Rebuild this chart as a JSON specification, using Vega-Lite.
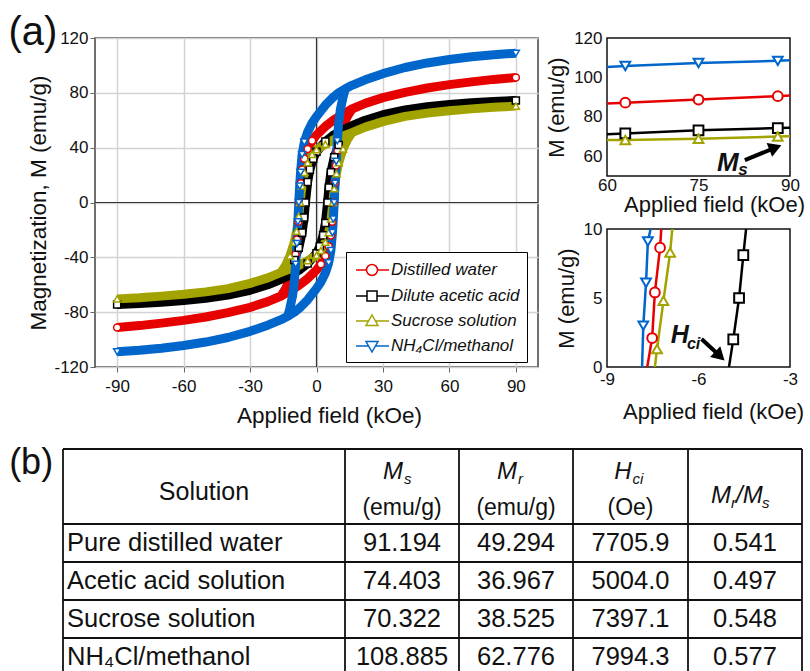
{
  "$schema": "https://vega.github.io/schema/vega-lite/v6.json",
  "padding": {"left": 7, "top": 12, "right": 0, "bottom": 0},
  "config": {
    "font": "Liberation Sans",
    "view": {"stroke": "#404040", "strokeWidth": 1.5},
    "axis": {"labelFontSize": 17, "titleFontSize": 22, "labelColor": "#111", "titleColor": "#111", "titleFontWeight": "normal", "domain": false, "tickColor": "#666", "labelFlush": false, "labelOverlap": false, "labelExpr": "replace(datum.label, '−', '-')"},
    "text": {"color": "#111"}
  },
  "datasets": {
    "loop": [
      {"s":"w","b":"d","H":90,"M":91.2},{"s":"w","b":"d","H":80,"M":89.8},{"s":"w","b":"d","H":70,"M":88},{"s":"w","b":"d","H":60,"M":86},{"s":"w","b":"d","H":50,"M":83.5},{"s":"w","b":"d","H":40,"M":80.3},{"s":"w","b":"d","H":30,"M":76.5},{"s":"w","b":"d","H":22,"M":72.3},{"s":"w","b":"d","H":16,"M":68.2},{"s":"w","b":"d","H":12,"M":64.5},{"s":"w","b":"d","H":8,"M":60.5},{"s":"w","b":"d","H":4,"M":55.5},{"s":"w","b":"d","H":0,"M":49.3},{"s":"w","b":"d","H":-2,"M":45},{"s":"w","b":"d","H":-4,"M":39},{"s":"w","b":"d","H":-5.5,"M":32},{"s":"w","b":"d","H":-6.5,"M":24},{"s":"w","b":"d","H":-7.1,"M":14},{"s":"w","b":"d","H":-7.7,"M":0},{"s":"w","b":"d","H":-8.2,"M":-14},{"s":"w","b":"d","H":-8.8,"M":-27},{"s":"w","b":"d","H":-9.5,"M":-38},{"s":"w","b":"d","H":-10.5,"M":-48},{"s":"w","b":"d","H":-12,"M":-56},{"s":"w","b":"d","H":-14,"M":-63},{"s":"w","b":"d","H":-16,"M":-68.2},{"s":"w","b":"d","H":-22,"M":-72.3},{"s":"w","b":"d","H":-30,"M":-76.5},{"s":"w","b":"d","H":-40,"M":-80.3},{"s":"w","b":"d","H":-50,"M":-83.5},{"s":"w","b":"d","H":-60,"M":-86},{"s":"w","b":"d","H":-70,"M":-88},{"s":"w","b":"d","H":-80,"M":-89.8},{"s":"w","b":"d","H":-90,"M":-91.2},
      {"s":"w","b":"a","H":-16,"M":-68.2},{"s":"w","b":"a","H":-12,"M":-64.5},{"s":"w","b":"a","H":-8,"M":-60.5},{"s":"w","b":"a","H":-4,"M":-55.5},{"s":"w","b":"a","H":0,"M":-49.3},{"s":"w","b":"a","H":2,"M":-45},{"s":"w","b":"a","H":4,"M":-39},{"s":"w","b":"a","H":5.5,"M":-32},{"s":"w","b":"a","H":6.5,"M":-24},{"s":"w","b":"a","H":7.1,"M":-14},{"s":"w","b":"a","H":7.7,"M":0},{"s":"w","b":"a","H":8.2,"M":14},{"s":"w","b":"a","H":8.8,"M":27},{"s":"w","b":"a","H":9.5,"M":38},{"s":"w","b":"a","H":10.5,"M":48},{"s":"w","b":"a","H":12,"M":56},{"s":"w","b":"a","H":14,"M":63},{"s":"w","b":"a","H":16,"M":68.2},
      {"s":"a","b":"d","H":90,"M":74.4},{"s":"a","b":"d","H":80,"M":73.7},{"s":"a","b":"d","H":70,"M":72.7},{"s":"a","b":"d","H":60,"M":71.5},{"s":"a","b":"d","H":50,"M":69.8},{"s":"a","b":"d","H":40,"M":67.5},{"s":"a","b":"d","H":30,"M":64},{"s":"a","b":"d","H":22,"M":60},{"s":"a","b":"d","H":16,"M":56},{"s":"a","b":"d","H":12,"M":53},{"s":"a","b":"d","H":8,"M":49.5},{"s":"a","b":"d","H":4,"M":44.5},{"s":"a","b":"d","H":0,"M":37},{"s":"a","b":"d","H":-1.5,"M":32},{"s":"a","b":"d","H":-3,"M":24},{"s":"a","b":"d","H":-4,"M":15},{"s":"a","b":"d","H":-5,"M":0},{"s":"a","b":"d","H":-5.6,"M":-11},{"s":"a","b":"d","H":-6.5,"M":-22},{"s":"a","b":"d","H":-8,"M":-33},{"s":"a","b":"d","H":-10,"M":-42},{"s":"a","b":"d","H":-12,"M":-48},{"s":"a","b":"d","H":-14,"M":-52.5},{"s":"a","b":"d","H":-16,"M":-56},{"s":"a","b":"d","H":-22,"M":-60},{"s":"a","b":"d","H":-30,"M":-64},{"s":"a","b":"d","H":-40,"M":-67.5},{"s":"a","b":"d","H":-50,"M":-69.8},{"s":"a","b":"d","H":-60,"M":-71.5},{"s":"a","b":"d","H":-70,"M":-72.7},{"s":"a","b":"d","H":-80,"M":-73.7},{"s":"a","b":"d","H":-90,"M":-74.4},
      {"s":"a","b":"a","H":-16,"M":-56},{"s":"a","b":"a","H":-12,"M":-53},{"s":"a","b":"a","H":-8,"M":-49.5},{"s":"a","b":"a","H":-4,"M":-44.5},{"s":"a","b":"a","H":0,"M":-37},{"s":"a","b":"a","H":1.5,"M":-32},{"s":"a","b":"a","H":3,"M":-24},{"s":"a","b":"a","H":4,"M":-15},{"s":"a","b":"a","H":5,"M":0},{"s":"a","b":"a","H":5.6,"M":11},{"s":"a","b":"a","H":6.5,"M":22},{"s":"a","b":"a","H":8,"M":33},{"s":"a","b":"a","H":10,"M":42},{"s":"a","b":"a","H":12,"M":48},{"s":"a","b":"a","H":14,"M":52.5},{"s":"a","b":"a","H":16,"M":56},
      {"s":"u","b":"d","H":90,"M":70.3},{"s":"u","b":"d","H":80,"M":69.5},{"s":"u","b":"d","H":70,"M":68.3},{"s":"u","b":"d","H":60,"M":67},{"s":"u","b":"d","H":50,"M":65.2},{"s":"u","b":"d","H":40,"M":62.8},{"s":"u","b":"d","H":30,"M":59},{"s":"u","b":"d","H":22,"M":55},{"s":"u","b":"d","H":16,"M":51},{"s":"u","b":"d","H":12,"M":48.5},{"s":"u","b":"d","H":8,"M":46},{"s":"u","b":"d","H":4,"M":42.5},{"s":"u","b":"d","H":0,"M":38.5},{"s":"u","b":"d","H":-2,"M":35},{"s":"u","b":"d","H":-4,"M":29},{"s":"u","b":"d","H":-5.5,"M":22},{"s":"u","b":"d","H":-6.6,"M":12},{"s":"u","b":"d","H":-7.4,"M":0},{"s":"u","b":"d","H":-8,"M":-10},{"s":"u","b":"d","H":-9,"M":-21},{"s":"u","b":"d","H":-10,"M":-29},{"s":"u","b":"d","H":-12,"M":-39},{"s":"u","b":"d","H":-14,"M":-46},{"s":"u","b":"d","H":-16,"M":-51},{"s":"u","b":"d","H":-22,"M":-55},{"s":"u","b":"d","H":-30,"M":-59},{"s":"u","b":"d","H":-40,"M":-62.8},{"s":"u","b":"d","H":-50,"M":-65.2},{"s":"u","b":"d","H":-60,"M":-67},{"s":"u","b":"d","H":-70,"M":-68.3},{"s":"u","b":"d","H":-80,"M":-69.5},{"s":"u","b":"d","H":-90,"M":-70.3},
      {"s":"u","b":"a","H":-16,"M":-51},{"s":"u","b":"a","H":-12,"M":-48.5},{"s":"u","b":"a","H":-8,"M":-46},{"s":"u","b":"a","H":-4,"M":-42.5},{"s":"u","b":"a","H":0,"M":-38.5},{"s":"u","b":"a","H":2,"M":-35},{"s":"u","b":"a","H":4,"M":-29},{"s":"u","b":"a","H":5.5,"M":-22},{"s":"u","b":"a","H":6.6,"M":-12},{"s":"u","b":"a","H":7.4,"M":0},{"s":"u","b":"a","H":8,"M":10},{"s":"u","b":"a","H":9,"M":21},{"s":"u","b":"a","H":10,"M":29},{"s":"u","b":"a","H":12,"M":39},{"s":"u","b":"a","H":14,"M":46},{"s":"u","b":"a","H":16,"M":51},
      {"s":"n","b":"d","H":90,"M":108.9},{"s":"n","b":"d","H":80,"M":107.8},{"s":"n","b":"d","H":70,"M":106.3},{"s":"n","b":"d","H":60,"M":104.3},{"s":"n","b":"d","H":50,"M":101.8},{"s":"n","b":"d","H":40,"M":98.5},{"s":"n","b":"d","H":30,"M":94},{"s":"n","b":"d","H":22,"M":89.5},{"s":"n","b":"d","H":16,"M":85.5},{"s":"n","b":"d","H":13,"M":83},{"s":"n","b":"d","H":10,"M":80},{"s":"n","b":"d","H":7,"M":76},{"s":"n","b":"d","H":4,"M":71},{"s":"n","b":"d","H":0,"M":62.8},{"s":"n","b":"d","H":-2,"M":58},{"s":"n","b":"d","H":-4,"M":51.5},{"s":"n","b":"d","H":-5.5,"M":44},{"s":"n","b":"d","H":-6.5,"M":35},{"s":"n","b":"d","H":-7.2,"M":22},{"s":"n","b":"d","H":-7.6,"M":12},{"s":"n","b":"d","H":-8,"M":0},{"s":"n","b":"d","H":-8.4,"M":-14},{"s":"n","b":"d","H":-8.9,"M":-30},{"s":"n","b":"d","H":-9.4,"M":-45},{"s":"n","b":"d","H":-10,"M":-58},{"s":"n","b":"d","H":-10.8,"M":-68},{"s":"n","b":"d","H":-12,"M":-77},{"s":"n","b":"d","H":-13,"M":-83},{"s":"n","b":"d","H":-16,"M":-85.5},{"s":"n","b":"d","H":-22,"M":-89.5},{"s":"n","b":"d","H":-30,"M":-94},{"s":"n","b":"d","H":-40,"M":-98.5},{"s":"n","b":"d","H":-50,"M":-101.8},{"s":"n","b":"d","H":-60,"M":-104.3},{"s":"n","b":"d","H":-70,"M":-106.3},{"s":"n","b":"d","H":-80,"M":-107.8},{"s":"n","b":"d","H":-90,"M":-108.9},
      {"s":"n","b":"a","H":-13,"M":-83},{"s":"n","b":"a","H":-10,"M":-80},{"s":"n","b":"a","H":-7,"M":-76},{"s":"n","b":"a","H":-4,"M":-71},{"s":"n","b":"a","H":0,"M":-62.8},{"s":"n","b":"a","H":2,"M":-58},{"s":"n","b":"a","H":4,"M":-51.5},{"s":"n","b":"a","H":5.5,"M":-44},{"s":"n","b":"a","H":6.5,"M":-35},{"s":"n","b":"a","H":7.2,"M":-22},{"s":"n","b":"a","H":7.6,"M":-12},{"s":"n","b":"a","H":8,"M":0},{"s":"n","b":"a","H":8.4,"M":14},{"s":"n","b":"a","H":8.9,"M":30},{"s":"n","b":"a","H":9.4,"M":45},{"s":"n","b":"a","H":10,"M":58},{"s":"n","b":"a","H":10.8,"M":68},{"s":"n","b":"a","H":12,"M":77},{"s":"n","b":"a","H":13,"M":83}
    ],
    "top": [
      {"s":"w","H":60,"M":86.8},{"s":"w","H":63,"M":87.2},{"s":"w","H":75,"M":88.8},{"s":"w","H":88,"M":90.5},{"s":"w","H":90,"M":90.8},
      {"s":"a","H":60,"M":71.2},{"s":"a","H":63,"M":71.6},{"s":"a","H":75,"M":73.2},{"s":"a","H":88,"M":74.3},{"s":"a","H":90,"M":74.5},
      {"s":"u","H":60,"M":68.2},{"s":"u","H":63,"M":68.3},{"s":"u","H":75,"M":68.9},{"s":"u","H":88,"M":70.0},{"s":"u","H":90,"M":70.2},
      {"s":"n","H":60,"M":105.3},{"s":"n","H":63,"M":105.8},{"s":"n","H":75,"M":107.3},{"s":"n","H":88,"M":108.4},{"s":"n","H":90,"M":108.7}
    ],
    "coer": [
      {"s":"w","H":-7.68,"M":0},{"s":"w","H":-7.52,"M":2.1},{"s":"w","H":-7.43,"M":5.4},{"s":"w","H":-7.26,"M":8.65},{"s":"w","H":-7.22,"M":10},
      {"s":"a","H":-5.0,"M":0},{"s":"a","H":-4.86,"M":2.0},{"s":"a","H":-4.67,"M":5.0},{"s":"a","H":-4.53,"M":8.1},{"s":"a","H":-4.44,"M":10},
      {"s":"u","H":-7.43,"M":0},{"s":"u","H":-7.36,"M":1.3},{"s":"u","H":-7.15,"M":4.8},{"s":"u","H":-6.93,"M":8.3},{"s":"u","H":-6.86,"M":10},
      {"s":"n","H":-7.85,"M":0},{"s":"n","H":-7.81,"M":3.0},{"s":"n","H":-7.72,"M":6.1},{"s":"n","H":-7.66,"M":9.1},{"s":"n","H":-7.57,"M":10}
    ]
  },
  "bounds": "full",
  "spacing": 16,
  "vconcat": [
    {
      "bounds": "flush",
      "spacing": 69,
      "hconcat": [
        {
          "width": 443,
          "height": 329,
          "resolve": {"scale": {"shape": "independent", "stroke": "independent"}},
          "layer": [
            {
              "data": {"values": [{}]},
              "mark": {"type": "rule", "color": "#333", "strokeWidth": 1.2},
              "encoding": {"x": {"datum": 0, "type": "quantitative", "scale": {"domain": [-100, 100], "nice": false, "zero": false}}}
            },
            {
              "data": {"values": [{}]},
              "mark": {"type": "rule", "color": "#333", "strokeWidth": 1.2},
              "encoding": {"y": {"datum": 0, "type": "quantitative", "scale": {"domain": [-120, 120], "nice": false, "zero": false}}}
            },
            {
              "data": {"name": "loop"},
              "mark": {"type": "line", "strokeWidth": 9, "strokeJoin": "round"},
              "encoding": {
                "x": {"field": "H", "type": "quantitative", "scale": {"domain": [-100, 100], "nice": false, "zero": false},
                  "axis": {"values": [-90, -60, -30, 0, 30, 60, 90], "title": "Applied field (kOe)", "grid": true, "gridColor": "#d3d3d3", "gridWidth": 1.5, "tickSize": 5, "labelPadding": 6, "titlePadding": 10, "labelFontSize": 17, "titleFontSize": 22.5, "titleX": 234}},
                "y": {"field": "M", "type": "quantitative", "scale": {"domain": [-120, 120], "nice": false, "zero": false},
                  "axis": {"values": [-120, -80, -40, 0, 40, 80, 120], "title": "Magnetization, M (emu/g)", "grid": true, "gridColor": "#d3d3d3", "gridWidth": 1.5, "tickSize": 5, "labelPadding": 2, "titlePadding": 3, "labelFontSize": 17, "titleFontSize": 22.5}},
                "color": {"field": "s", "type": "nominal", "scale": {"domain": ["w", "a", "u", "n"], "range": ["#e60000", "#000000", "#a3a300", "#0066cc"]}, "legend": null},
                "detail": {"field": "b"}
              }
            },
            {
              "data": {"name": "loop"},
              "transform": [{"filter": "abs(datum.M) <= 45 || abs(datum.H) == 90"}],
              "mark": {"type": "point", "fill": "white", "strokeWidth": 1.5, "size": 50, "opacity": 1},
              "encoding": {
                "x": {"field": "H", "type": "quantitative", "scale": {"domain": [-100, 100], "nice": false, "zero": false}},
                "y": {"field": "M", "type": "quantitative", "scale": {"domain": [-120, 120], "nice": false, "zero": false}},
                "stroke": {"field": "s", "type": "nominal", "scale": {"domain": ["w", "a", "u", "n"], "range": ["#e60000", "#000000", "#a3a300", "#0066cc"]}, "legend": null},
                "shape": {"field": "s", "type": "nominal", "scale": {"domain": ["w", "a", "u", "n"], "range": ["circle", "square", "triangle-up", "triangle-down"]}, "legend": null}
              }
            },
            {
              "data": {"name": "loop"},
              "transform": [{"filter": "false"}],
              "mark": {"type": "point", "fill": "white", "strokeWidth": 1.5, "size": 400, "opacity": 1},
              "encoding": {
                "x": {"field": "H", "type": "quantitative", "scale": {"domain": [-100, 100], "nice": false, "zero": false}},
                "y": {"field": "M", "type": "quantitative", "scale": {"domain": [-120, 120], "nice": false, "zero": false}},
                "stroke": {"field": "s", "type": "nominal", "scale": {"domain": ["w", "a", "u", "n"], "range": ["#e60000", "#000000", "#a3a300", "#0066cc"]},
                  "legend": {"orient": "none", "legendX": 251, "legendY": 214, "title": null, "padding": 7, "strokeColor": "#000", "fillColor": "#fff", "labelFontStyle": "italic", "labelFontSize": 17, "labelColor": "#111", "symbolSize": 400, "symbolStrokeWidth": 1.5, "symbolFillColor": "#fff", "rowPadding": 6, "labelOffset": 16,
                    "labelExpr": "{'w':'Distilled water','a':'Dilute acetic acid','u':'Sucrose solution','n':'NH₄Cl/methanol'}[datum.label]"}},
                "shape": {"field": "s", "type": "nominal", "scale": {"domain": ["w", "a", "u", "n"], "range": [
                    "M-0.8,0H0.25M1.35,0H2.5M1.35,0A0.55,0.55 0 1,1 0.25,0A0.55,0.55 0 1,1 1.35,0Z",
                    "M-0.8,0H0.3M1.3,0H2.5M0.3,-0.5H1.3V0.5H0.3Z",
                    "M-0.8,0H0.457M1.143,0H2.5M0.8,-0.6L1.4,0.45H0.2Z",
                    "M-0.8,0H0.457M1.143,0H2.5M0.8,0.6L1.4,-0.45H0.2Z"]},
                  "legend": {"orient": "none", "legendX": 251, "legendY": 214, "title": null, "padding": 7, "strokeColor": "#000", "fillColor": "#fff", "labelFontStyle": "italic", "labelFontSize": 17, "labelColor": "#111", "symbolSize": 400, "symbolStrokeWidth": 1.5, "symbolFillColor": "#fff", "rowPadding": 6, "labelOffset": 16,
                    "labelExpr": "{'w':'Distilled water','a':'Dilute acetic acid','u':'Sucrose solution','n':'NH₄Cl/methanol'}[datum.label]"}}
              }
            },
            {
              "data": {"values": [{}]},
              "mark": {"type": "text", "fontSize": 40, "align": "center", "baseline": "alphabetic"},
              "encoding": {
                "x": {"datum": -128, "type": "quantitative", "scale": {"domain": [-100, 100], "nice": false, "zero": false}},
                "y": {"datum": 114.9, "type": "quantitative", "scale": {"domain": [-120, 120], "nice": false, "zero": false}},
                "text": {"value": "(a)"}
              }
            }
          ]
        },
        {
          "bounds": "flush",
          "spacing": 53,
          "vconcat": [
            {
              "width": 183,
              "height": 138,
              "view": {"stroke": "#111", "strokeWidth": 1.5},
              "layer": [
                {
                  "data": {"name": "top"},
                  "mark": {"type": "line", "strokeWidth": 2.5, "clip": true},
                  "encoding": {
                    "x": {"field": "H", "type": "quantitative", "scale": {"domain": [60, 90], "nice": false, "zero": false},
                      "axis": {"values": [60, 75, 90], "title": "Applied field (kOe)", "grid": false, "ticks": false, "labelPadding": 1, "titlePadding": 1, "labelFontSize": 17, "titleFontSize": 22, "titleX": 107}},
                    "y": {"field": "M", "type": "quantitative", "scale": {"domain": [50, 120], "nice": false, "zero": false},
                      "axis": {"values": [60, 80, 100, 120], "title": "M (emu/g)", "grid": false, "ticks": false, "labelPadding": 5, "titlePadding": 5, "labelFontSize": 17, "titleFontSize": 22}},
                    "color": {"field": "s", "type": "nominal", "scale": {"domain": ["w", "a", "u", "n"], "range": ["#e60000", "#000000", "#a3a300", "#0066cc"]}, "legend": null}
                  }
                },
                {
                  "data": {"name": "top"},
                  "transform": [{"filter": "datum.H != 60 && datum.H != 90"}],
                  "mark": {"type": "point", "fill": "white", "strokeWidth": 2, "size": 95, "opacity": 1},
                  "encoding": {
                    "x": {"field": "H", "type": "quantitative", "scale": {"domain": [60, 90], "nice": false, "zero": false}},
                    "y": {"field": "M", "type": "quantitative", "scale": {"domain": [50, 120], "nice": false, "zero": false}},
                    "stroke": {"field": "s", "type": "nominal", "scale": {"domain": ["w", "a", "u", "n"], "range": ["#e60000", "#000000", "#a3a300", "#0066cc"]}, "legend": null},
                    "shape": {"field": "s", "type": "nominal", "scale": {"domain": ["w", "a", "u", "n"], "range": ["circle", "square", "triangle-up", "triangle-down"]}, "legend": null}
                  }
                },
                {
                  "data": {"values": [{}]},
                  "mark": {"type": "rule", "color": "#000", "strokeWidth": 4},
                  "encoding": {
                    "x": {"datum": 82.6, "type": "quantitative", "scale": {"domain": [60, 90], "nice": false, "zero": false}},
                    "y": {"datum": 58.1, "type": "quantitative", "scale": {"domain": [50, 120], "nice": false, "zero": false}},
                    "x2": {"datum": 87.3},
                    "y2": {"datum": 64.0}
                  }
                },
                {
                  "data": {"values": [{}]},
                  "mark": {"type": "point", "shape": "triangle-up", "filled": true, "color": "#000", "size": 220, "angle": 68.5, "opacity": 1},
                  "encoding": {
                    "x": {"datum": 87.6, "type": "quantitative", "scale": {"domain": [60, 90], "nice": false, "zero": false}},
                    "y": {"datum": 64.4, "type": "quantitative", "scale": {"domain": [50, 120], "nice": false, "zero": false}}
                  }
                },
                {
                  "data": {"values": [{}]},
                  "mark": {"type": "text", "fontSize": 26, "fontWeight": "bold", "fontStyle": "italic", "align": "center", "baseline": "alphabetic"},
                  "encoding": {
                    "x": {"datum": 79.8, "type": "quantitative", "scale": {"domain": [60, 90], "nice": false, "zero": false}},
                    "y": {"datum": 52.6, "type": "quantitative", "scale": {"domain": [50, 120], "nice": false, "zero": false}},
                    "text": {"value": "M"}
                  }
                },
                {
                  "data": {"values": [{}]},
                  "mark": {"type": "text", "fontSize": 17, "fontWeight": "bold", "fontStyle": "italic", "align": "left", "baseline": "alphabetic"},
                  "encoding": {
                    "x": {"datum": 81.5, "type": "quantitative", "scale": {"domain": [60, 90], "nice": false, "zero": false}},
                    "y": {"datum": 50.5, "type": "quantitative", "scale": {"domain": [50, 120], "nice": false, "zero": false}},
                    "text": {"value": "s"}
                  }
                }
              ]
            },
            {
              "width": 183,
              "height": 138,
              "view": {"stroke": "#111", "strokeWidth": 1.5},
              "layer": [
                {
                  "data": {"name": "coer"},
                  "mark": {"type": "line", "strokeWidth": 2.5, "clip": true},
                  "encoding": {
                    "x": {"field": "H", "type": "quantitative", "scale": {"domain": [-9, -3], "nice": false, "zero": false},
                      "axis": {"values": [-9, -6, -3], "title": "Applied field (kOe)", "grid": false, "ticks": false, "labelPadding": 4, "titlePadding": 14, "labelFontSize": 17, "titleFontSize": 22, "titleX": 106}},
                    "y": {"field": "M", "type": "quantitative", "scale": {"domain": [0, 10], "nice": false, "zero": false},
                      "axis": {"values": [0, 5, 10], "title": "M (emu/g)", "grid": false, "ticks": false, "labelPadding": 5, "titlePadding": 5, "labelFontSize": 17, "titleFontSize": 22}},
                    "color": {"field": "s", "type": "nominal", "scale": {"domain": ["w", "a", "u", "n"], "range": ["#e60000", "#000000", "#a3a300", "#0066cc"]}, "legend": null}
                  }
                },
                {
                  "data": {"name": "coer"},
                  "transform": [{"filter": "datum.M > 0 && datum.M < 10"}],
                  "mark": {"type": "point", "fill": "white", "strokeWidth": 2, "size": 95, "opacity": 1},
                  "encoding": {
                    "x": {"field": "H", "type": "quantitative", "scale": {"domain": [-9, -3], "nice": false, "zero": false}},
                    "y": {"field": "M", "type": "quantitative", "scale": {"domain": [0, 10], "nice": false, "zero": false}},
                    "stroke": {"field": "s", "type": "nominal", "scale": {"domain": ["w", "a", "u", "n"], "range": ["#e60000", "#000000", "#a3a300", "#0066cc"]}, "legend": null},
                    "shape": {"field": "s", "type": "nominal", "scale": {"domain": ["w", "a", "u", "n"], "range": ["circle", "square", "triangle-up", "triangle-down"]}, "legend": null}
                  }
                },
                {
                  "data": {"values": [{}]},
                  "mark": {"type": "rule", "color": "#000", "strokeWidth": 4},
                  "encoding": {
                    "x": {"datum": -5.9, "type": "quantitative", "scale": {"domain": [-9, -3], "nice": false, "zero": false}},
                    "y": {"datum": 2.03, "type": "quantitative", "scale": {"domain": [0, 10], "nice": false, "zero": false}},
                    "x2": {"datum": -5.35},
                    "y2": {"datum": 0.9}
                  }
                },
                {
                  "data": {"values": [{}]},
                  "mark": {"type": "point", "shape": "triangle-up", "filled": true, "color": "#000", "size": 220, "angle": 133.5, "opacity": 1},
                  "encoding": {
                    "x": {"datum": -5.3, "type": "quantitative", "scale": {"domain": [-9, -3], "nice": false, "zero": false}},
                    "y": {"datum": 0.8, "type": "quantitative", "scale": {"domain": [0, 10], "nice": false, "zero": false}}
                  }
                },
                {
                  "data": {"values": [{}]},
                  "mark": {"type": "text", "fontSize": 25, "fontWeight": "bold", "fontStyle": "italic", "align": "center", "baseline": "alphabetic"},
                  "encoding": {
                    "x": {"datum": -6.61, "type": "quantitative", "scale": {"domain": [-9, -3], "nice": false, "zero": false}},
                    "y": {"datum": 1.74, "type": "quantitative", "scale": {"domain": [0, 10], "nice": false, "zero": false}},
                    "text": {"value": "H"}
                  }
                },
                {
                  "data": {"values": [{}]},
                  "mark": {"type": "text", "fontSize": 16, "fontWeight": "bold", "fontStyle": "italic", "align": "left", "baseline": "alphabetic"},
                  "encoding": {
                    "x": {"datum": -6.38, "type": "quantitative", "scale": {"domain": [-9, -3], "nice": false, "zero": false}},
                    "y": {"datum": 1.3, "type": "quantitative", "scale": {"domain": [0, 10], "nice": false, "zero": false}},
                    "text": {"value": "ci"}
                  }
                }
              ]
            }
          ]
        }
      ]
    },
    {
      "width": 707,
      "height": 227,
      "view": {"stroke": null},
      "layer": [
        {
          "data": {"values": [{"xb": -0.5}, {"xb": 0.5}, {"xb": 1.5}, {"xb": 2.5}, {"xb": 3.5}, {"xb": 4.5}]},
          "mark": {"type": "rule", "color": "#111", "strokeWidth": 1.8},
          "encoding": {
            "x": {"field": "xb", "type": "quantitative", "scale": {"domain": [-0.5, 0.5, 1.5, 2.5, 3.5, 4.5], "range": [-32, 250, 364, 478, 593, 707], "nice": false, "zero": false}, "axis": null},
            "y": {"datum": -0.5, "type": "quantitative", "scale": {"domain": [-0.5, 0.5, 1.5, 2.5, 3.5, 4.5], "range": [0, 75, 113, 151, 189, 227], "nice": false, "zero": false}, "axis": null},
            "y2": {"datum": 4.5}
          }
        },
        {
          "data": {"values": [{"yb": -0.5}, {"yb": 0.5}, {"yb": 1.5}, {"yb": 2.5}, {"yb": 3.5}, {"yb": 4.5}]},
          "mark": {"type": "rule", "color": "#111", "strokeWidth": 1.8},
          "encoding": {
            "y": {"field": "yb", "type": "quantitative", "scale": {"domain": [-0.5, 0.5, 1.5, 2.5, 3.5, 4.5], "range": [0, 75, 113, 151, 189, 227], "nice": false, "zero": false}, "axis": null},
            "x": {"datum": -0.5, "type": "quantitative", "scale": {"domain": [-0.5, 0.5, 1.5, 2.5, 3.5, 4.5], "range": [-32, 250, 364, 478, 593, 707], "nice": false, "zero": false}, "axis": null},
            "x2": {"datum": 4.5}
          }
        },
        {
          "data": {"values": [{"c": 0, "t": "Solution"}]},
          "mark": {"type": "text", "fontSize": 25, "align": "center", "baseline": "middle", "dy": 5},
          "encoding": {
            "x": {"field": "c", "type": "quantitative"},
            "y": {"datum": 0, "type": "quantitative"},
            "text": {"field": "t"}
          }
        },
        {
          "data": {"values": [{"c": 1, "t": "M"}, {"c": 2, "t": "M"}, {"c": 3, "t": "H"}]},
          "mark": {"type": "text", "fontSize": 24, "fontStyle": "italic", "align": "right", "baseline": "middle", "dx": 1, "dy": -15},
          "encoding": {
            "x": {"field": "c", "type": "quantitative"},
            "y": {"datum": 0, "type": "quantitative"},
            "text": {"field": "t"}
          }
        },
        {
          "data": {"values": [{"c": 1, "t": "s"}, {"c": 2, "t": "r"}, {"c": 3, "t": "ci"}]},
          "mark": {"type": "text", "fontSize": 15, "fontStyle": "italic", "align": "left", "baseline": "middle", "dx": 2, "dy": -8},
          "encoding": {
            "x": {"field": "c", "type": "quantitative"},
            "y": {"datum": 0, "type": "quantitative"},
            "text": {"field": "t"}
          }
        },
        {
          "data": {"values": [{"c": 1, "t": "(emu/g)"}, {"c": 2, "t": "(emu/g)"}, {"c": 3, "t": "(Oe)"}]},
          "mark": {"type": "text", "fontSize": 23, "align": "center", "baseline": "middle", "dy": 21},
          "encoding": {
            "x": {"field": "c", "type": "quantitative"},
            "y": {"datum": 0, "type": "quantitative"},
            "text": {"field": "t"}
          }
        },
        {
          "data": {"values": [{"c": 4, "t": "M"}]},
          "mark": {"type": "text", "fontSize": 24, "fontStyle": "italic", "align": "right", "baseline": "middle", "dx": -14, "dy": 9},
          "encoding": {"x": {"field": "c", "type": "quantitative"}, "y": {"datum": 0, "type": "quantitative"}, "text": {"field": "t"}}
        },
        {
          "data": {"values": [{"c": 4, "t": "r"}]},
          "mark": {"type": "text", "fontSize": 15, "fontStyle": "italic", "align": "left", "baseline": "middle", "dx": -14, "dy": 16},
          "encoding": {"x": {"field": "c", "type": "quantitative"}, "y": {"datum": 0, "type": "quantitative"}, "text": {"field": "t"}}
        },
        {
          "data": {"values": [{"c": 4, "t": "/M"}]},
          "mark": {"type": "text", "fontSize": 24, "fontStyle": "italic", "align": "left", "baseline": "middle", "dx": -9, "dy": 9},
          "encoding": {"x": {"field": "c", "type": "quantitative"}, "y": {"datum": 0, "type": "quantitative"}, "text": {"field": "t"}}
        },
        {
          "data": {"values": [{"c": 4, "t": "s"}]},
          "mark": {"type": "text", "fontSize": 15, "fontStyle": "italic", "align": "left", "baseline": "middle", "dx": 17, "dy": 16},
          "encoding": {"x": {"field": "c", "type": "quantitative"}, "y": {"datum": 0, "type": "quantitative"}, "text": {"field": "t"}}
        },
        {
          "data": {"values": [{"r": 1, "t": "Pure distilled water"}, {"r": 2, "t": "Acetic acid solution"}, {"r": 3, "t": "Sucrose solution"}, {"r": 4, "t": "NH₄Cl/methanol"}]},
          "mark": {"type": "text", "fontSize": 25.5, "align": "left", "baseline": "middle", "dx": 4, "dy": 0},
          "encoding": {
            "x": {"datum": -0.5, "type": "quantitative"},
            "y": {"field": "r", "type": "quantitative"},
            "text": {"field": "t"}
          }
        },
        {
          "data": {"values": [
            {"r": 1, "c": 1, "t": "91.194"}, {"r": 1, "c": 2, "t": "49.294"}, {"r": 1, "c": 3, "t": "7705.9"}, {"r": 1, "c": 4, "t": "0.541"},
            {"r": 2, "c": 1, "t": "74.403"}, {"r": 2, "c": 2, "t": "36.967"}, {"r": 2, "c": 3, "t": "5004.0"}, {"r": 2, "c": 4, "t": "0.497"},
            {"r": 3, "c": 1, "t": "70.322"}, {"r": 3, "c": 2, "t": "38.525"}, {"r": 3, "c": 3, "t": "7397.1"}, {"r": 3, "c": 4, "t": "0.548"},
            {"r": 4, "c": 1, "t": "108.885"}, {"r": 4, "c": 2, "t": "62.776"}, {"r": 4, "c": 3, "t": "7994.3"}, {"r": 4, "c": 4, "t": "0.577"}
          ]},
          "mark": {"type": "text", "fontSize": 25.5, "align": "center", "baseline": "middle"},
          "encoding": {
            "x": {"field": "c", "type": "quantitative"},
            "y": {"field": "r", "type": "quantitative"},
            "text": {"field": "t"}
          }
        },
        {
          "data": {"values": [{}]},
          "mark": {"type": "text", "fontSize": 36, "align": "center", "baseline": "alphabetic"},
          "encoding": {
            "x": {"datum": -0.613, "type": "quantitative"},
            "y": {"datum": -0.167, "type": "quantitative"},
            "text": {"value": "(b)"}
          }
        }
      ]
    }
  ]
}
